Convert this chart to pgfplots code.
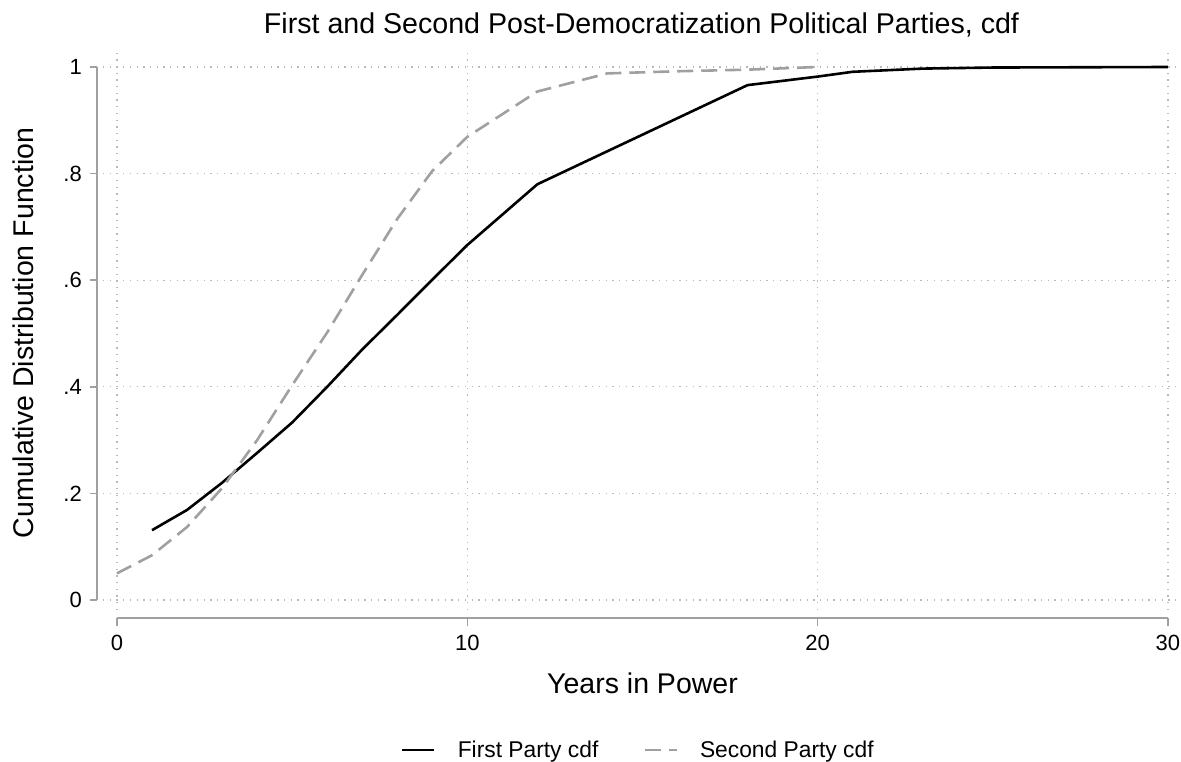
\documentclass[border=0pt]{standalone}
\usepackage{pgfplots}
\pgfplotsset{compat=1.18}
\usepackage{fontspec}
\setmainfont{Liberation Sans}

\definecolor{axisgray}{RGB}{160,160,160}
\definecolor{gridgray}{RGB}{185,185,185}
\definecolor{secondgray}{RGB}{160,160,160}

\begin{document}
\begin{tikzpicture}[x=1pt,y=1pt]
\useasboundingbox (0,0) rectangle (1181,761);
\begin{axis}[
  at={(103pt,151pt)}, anchor=south west,
  scale only axis,
  width=1077pt, height=560pt,
  xmin=-0.4, xmax=30.345,
  ymin=-0.01876, ymax=1.0319,
  clip=false,
  axis line style={draw=none},
  tick style={draw=none},
  major tick length=0pt,
  xtick={0,10,20,30},
  ytick={0,0.2,0.4,0.6,0.8,1},
  yticklabels={0,.2,.4,.6,.8,1},
  xticklabels={0,10,20,30},
  grid=major,
  major grid style={gridgray, line width=1.3pt, dash pattern=on 1.3pt off 5.4pt},
  ticklabel style={font=\fontsize{22}{26}\selectfont, inner sep=0pt},
  yticklabel style={anchor=east, xshift=-21pt},
  xticklabel style={anchor=north, yshift=-25pt},
  legend style={
    at={(0.2739,-0.25)}, anchor=west,
    draw=none, fill=none,
    legend columns=2,
    font=\fontsize{22.8}{27}\selectfont,
    nodes={inner sep=0pt},
    /tikz/every odd column/.style={column sep=22pt},
    /tikz/every even column/.style={column sep=45pt},
  },
  legend image code/.code={\draw[#1] (0pt,0pt) -- (32pt,0pt);},
]
% axis lines and ticks, drawn offset from the plot region
\draw[axisgray, line width=1.6pt] (axis cs:-0.571,0) -- (axis cs:-0.571,1);
\pgfplotsinvokeforeach{0,0.2,0.4,0.6,0.8,1}{
  \draw[axisgray, line width=1.6pt] (axis cs:-0.571,#1) -- (axis cs:-0.771,#1);
}
\draw[axisgray, line width=1.6pt] (axis cs:0,-0.0338) -- (axis cs:30,-0.0338);
\pgfplotsinvokeforeach{0,10,20,30}{
  \draw[axisgray, line width=1.6pt] (axis cs:#1,-0.0338) -- (axis cs:#1,-0.0488);
}

\addplot[black, line width=2.6pt, line join=round] coordinates {
  (1,0.131) (2,0.169) (3,0.220) (4,0.276) (5,0.333) (6,0.400) (7,0.470)
  (8,0.535) (9,0.601) (10,0.666) (12,0.780) (18,0.966) (20,0.982)
  (21,0.991) (23,0.997) (25,0.999) (30,1.0)
};
\addlegendentry{First Party cdf}
\addplot[secondgray, line width=2.6pt, dash pattern=on 16pt off 8pt] coordinates {
  (0,0.050) (1,0.084) (2,0.137) (3,0.210) (4,0.300) (5,0.403) (6,0.502)
  (7,0.610) (8,0.715) (9,0.805) (10,0.869) (12,0.954) (14,0.988)
  (16,0.992) (18,0.995) (20,1.0)
};
\addlegendentry{Second Party cdf}
\end{axis}
\node[anchor=base, font=\fontsize{28.6}{33}\selectfont] at (641.5,727) {First and Second Post-Democratization Political Parties, cdf};
\node[anchor=base, font=\fontsize{28.5}{33}\selectfont] at (642.5,68) {Years in Power};
\node[anchor=base, rotate=90, font=\fontsize{28.5}{33}\selectfont] at (33,428) {Cumulative Distribution Function};
\end{tikzpicture}
\end{document}
